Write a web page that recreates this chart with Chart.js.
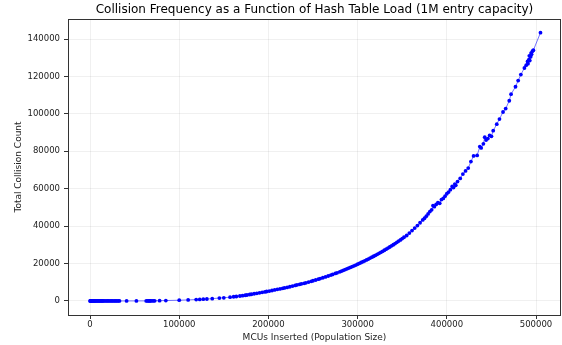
<!DOCTYPE html>
<html lang="en">
<head>
<meta charset="UTF-8">
<title>Collision Frequency vs Hash Table Load</title>
<script src="https://cdn.jsdelivr.net/npm/chart.js"></script>
<style>
  html, body { margin: 0; padding: 0; background: #fff; }
  #chart { display: block; }
</style>
</head>
<body>
<canvas id="chart" width="562" height="345"></canvas>
<script>
// values
const mcusInserted = [
  0, 500, 1000, 1500, 2200, 3000, 3800, 4500, 5200, 6000, 7000, 8000, 9000, 10000, 11000,
  12000, 13000, 14000, 15000, 16500, 18000, 19500, 21000, 22500, 24000, 25500, 27000, 28500,
  30000, 31500, 33000, 41000, 52000, 63000, 64500, 66000, 67000, 68000, 69500, 71000, 72500,
  78000, 85000, 100000, 110000, 119000, 123000, 127000, 131000, 137000, 145000, 150000, 157000,
  161000, 164000, 168000, 171000, 174000, 176000, 179000, 181000, 184000, 187000, 190000,
  193000, 196000, 198000, 201000, 204000, 207000, 210000, 213000, 216000, 218000, 221000,
  224000, 227000, 230000, 232000, 235000, 237000, 240000, 242000, 245000, 248000, 250000,
  253000, 256000, 258000, 261000, 264000, 267000, 270000, 272000, 275000, 277000, 280000,
  282000, 284000, 286000, 288000, 290000, 292000, 294000, 296000, 298000, 300000, 302000,
  304000, 306000, 308000, 310000, 312000, 314000, 316000, 318000, 320000, 322000, 324000,
  326000, 328000, 330000, 332000, 334000, 336000, 338000, 340000, 342000, 344000, 346000,
  348000, 350000, 352000, 355000, 358000, 361000, 364000, 367000, 370000, 373000, 375000,
  377000, 379000, 381000, 383000, 384500, 386000, 388000, 390000, 392000, 394000, 396000,
  398000, 400000, 402000, 404000, 406000, 407500, 409000, 410000, 412000, 415000, 418000,
  421000, 424000, 427000, 430000, 434000, 437000, 438500, 441000, 442500, 444000, 446000,
  448000, 450000, 452000, 456000, 459000, 463000, 466000, 470000, 472000, 477000, 480000,
  483000, 487000, 489000, 490500, 491000, 492000, 492500, 493000, 494000, 494500, 495000,
  496000, 497000, 505000
];
const totalCollisions = [
  0, 0, 0, 0, 0, 0, 0, 0, 1, 1, 1, 1, 1, 1, 2,
  2, 2, 2, 3, 3, 3, 4, 4, 5, 5, 6, 6, 7,
  8, 8, 9, 15, 25, 40, 42, 45, 48, 50, 55, 58, 62,
  150, 220, 400, 560, 760, 850, 950, 1050, 1250, 1550, 1700, 2050,
  2250, 2400, 2650, 2850, 3050, 3200, 3450, 3600, 3850, 4100, 4350,
  4600, 4850, 5050, 5300, 5600, 5900, 6200, 6450, 6750, 6950, 7250,
  7600, 7950, 8300, 8550, 8900, 9150, 9450, 9700, 10100, 10500, 10800,
  11200, 11650, 11950, 12400, 12850, 13350, 13850, 14200, 14700, 15050, 15600,
  16000, 16400, 16800, 17200, 17600, 18000, 18400, 18800, 19200, 19650, 20100,
  20550, 21000, 21450, 21950, 22400, 22900, 23400, 23900, 24400, 24950, 25450,
  26000, 26550, 27100, 27700, 28250, 28850, 29450, 30050, 30700, 31350, 32000,
  32650, 33350, 34050, 35000, 36300, 37600, 38950, 40300, 41800, 43300, 44200,
  45300, 46500, 47800, 48700, 51000, 50400, 51600, 52600, 52200, 54200, 54800,
  56000, 57300, 58200, 59500, 61200, 60600, 62500, 61800, 63800, 65500, 67800,
  69500, 71000, 74500, 77500, 77800, 82500, 81800, 84000, 87500, 86000, 86800,
  88500, 88000, 91000, 94500, 97200, 101000, 102800, 107000, 110500, 114500, 117800,
  121000, 124500, 126000, 128000, 126800, 129000, 131000, 128500, 130500, 132500, 131800,
  133500, 134000, 143400
];
const xTickValues = [0, 100000, 200000, 300000, 400000, 500000];
const yTickValues = [0, 20000, 40000, 60000, 80000, 100000, 120000, 140000];
const chartTitle = 'Collision Frequency as a Function of Hash Table Load (1M entry capacity)';

const points = mcusInserted.map((x, i) => ({ x: x, y: totalCollisions[i] }));

// frame around the plot and a title centred over the axes (matplotlib style)
const frameBox = {
  id: 'frameBox',
  afterDraw(chart) {
    const { ctx, chartArea: a } = chart;
    ctx.save();
    ctx.strokeStyle = '#333';
    ctx.lineWidth = 1;
    ctx.strokeRect(Math.round(a.left) + 0.5, Math.round(a.top) + 0.5,
      Math.round(a.right - a.left) - 1, Math.round(a.bottom - a.top));
    ctx.fillStyle = '#000';
    ctx.font = '12px "DejaVu Sans"';
    ctx.textAlign = 'center';
    ctx.textBaseline = 'middle';
    ctx.fillText(chartTitle, (a.left + a.right) / 2, 10);
    ctx.restore();
  }
};

const tickFont = { family: 'DejaVu Sans', size: 8.5 };
const labelFont = { family: 'DejaVu Sans', size: 9 };

new Chart(document.getElementById('chart').getContext('2d'), {
  type: 'scatter',
  data: {
    datasets: [{
      data: points,
      showLine: true,
      borderColor: 'rgba(0, 0, 255, 0.55)',
      borderWidth: 1,
      pointRadius: 1.9,
      pointBackgroundColor: '#0000ff',
      pointBorderWidth: 0
    }]
  },
  options: {
    responsive: false,
    animation: false,
    layout: { autoPadding: false, padding: { left: 0, right: 1, top: 19, bottom: 0 } },
    plugins: {
      legend: { display: false },
      tooltip: { enabled: false },
      title: { display: false }
    },
    scales: {
      x: {
        type: 'linear',
        min: -24700,
        max: 528000,
        afterFit(scale) { scale.height = 30; scale.paddingLeft = 0; scale.paddingRight = 0; },
        afterBuildTicks(scale) { scale.ticks = xTickValues.map(v => ({ value: v })); },
        border: { display: false },
        grid: { color: 'rgba(0,0,0,0.06)', tickColor: '#333', tickLength: 4 },
        ticks: {
          color: '#222',
          font: tickFont,
          padding: 1,
          maxRotation: 0,
          autoSkip: false,
          callback: v => String(v)
        },
        title: {
          display: true,
          text: 'MCUs Inserted (Population Size)',
          color: '#222',
          font: labelFont,
          padding: { top: 0, bottom: 2 }
        }
      },
      y: {
        type: 'linear',
        min: -7500,
        max: 150700,
        afterFit(scale) { scale.width = 68; scale.paddingTop = 0; scale.paddingBottom = 0; },
        afterBuildTicks(scale) { scale.ticks = yTickValues.map(v => ({ value: v })); },
        border: { display: false },
        grid: { color: 'rgba(0,0,0,0.06)', tickColor: '#333', tickLength: 4 },
        ticks: {
          color: '#222',
          font: tickFont,
          padding: 4,
          autoSkip: false,
          callback: v => String(v)
        },
        title: {
          display: true,
          text: 'Total Collision Count',
          color: '#222',
          font: labelFont,
          padding: { top: 13, bottom: 0 }
        }
      }
    }
  },
  plugins: [frameBox]
});
</script>
</body>
</html>
